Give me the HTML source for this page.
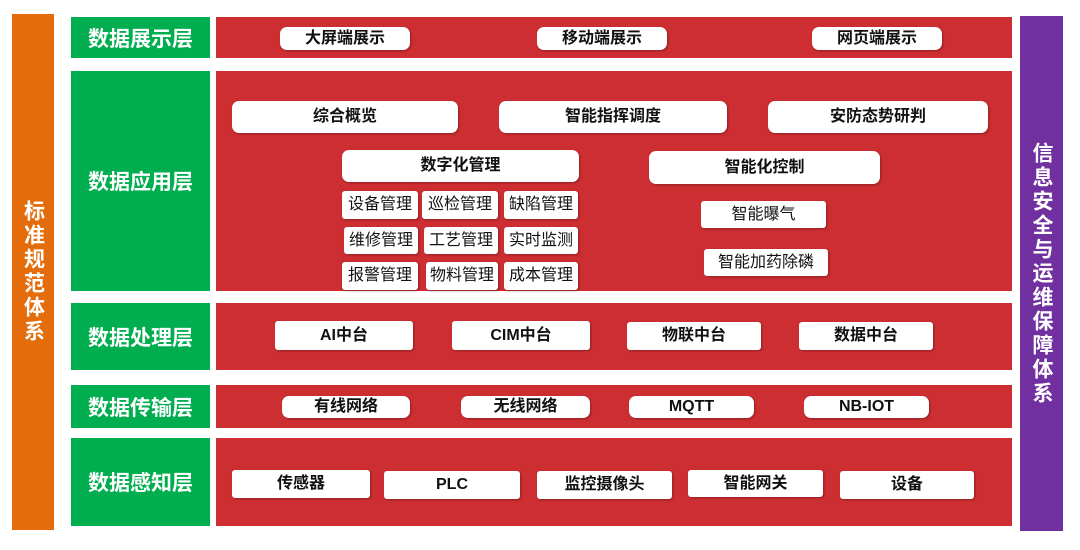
<!DOCTYPE html>
<html><head><meta charset="utf-8"><style>
body{margin:0;width:1080px;height:550px;background:#fff;position:relative;overflow:hidden;font-family:"Liberation Sans","Noto Sans CJK SC",sans-serif}
div{position:absolute;box-sizing:border-box}
.g{background:#00ad4f;color:#fff;font-weight:bold;font-size:21px;display:flex;align-items:center;justify-content:center;left:71px;width:139px}
.r{background:#cc2e32;left:216px;width:796px}
.b{background:#fff;color:#111;font-weight:bold;font-size:16px;line-height:1;display:flex;align-items:center;justify-content:center;border-radius:3px;box-shadow:1px 1px 2px rgba(0,0,0,.3)}
.rd{border-radius:7px}
.v{color:#fff;font-weight:bold;font-size:21px;line-height:1;display:flex;align-items:center;justify-content:center;writing-mode:vertical-rl;text-orientation:upright;letter-spacing:3px}
</style></head><body>
<div class="v" style="left:12px;top:14px;width:42px;height:516px;background:#e46c0a">标准规范体系</div>
<div class="v" style="left:1020px;top:16px;width:43px;height:515px;background:#7030a0">信息安全与运维保障体系</div>

<div class="g" style="top:17px;height:41px">数据展示层</div>
<div class="r" style="top:17px;height:41px"></div>
<div class="b rd" style="left:280px;top:27px;width:130px;height:23px">大屏端展示</div>
<div class="b rd" style="left:537px;top:27px;width:130px;height:23px">移动端展示</div>
<div class="b rd" style="left:812px;top:27px;width:130px;height:23px">网页端展示</div>

<div class="g" style="top:71px;height:220px">数据应用层</div>
<div class="r" style="top:71px;height:220px"></div>
<div class="b rd" style="left:232px;top:101px;width:226px;height:32px">综合概览</div>
<div class="b rd" style="left:499px;top:101px;width:228px;height:32px">智能指挥调度</div>
<div class="b rd" style="left:768px;top:101px;width:220px;height:32px">安防态势研判</div>
<div class="b rd" style="left:342px;top:150px;width:237px;height:32px">数字化管理</div>
<div class="b rd" style="left:649px;top:151px;width:231px;height:33px">智能化控制</div>
<div class="b" style="left:342px;top:191px;width:76px;height:28px;font-weight:normal">设备管理</div>
<div class="b" style="left:422px;top:191px;width:76px;height:28px;font-weight:normal">巡检管理</div>
<div class="b" style="left:504px;top:191px;width:74px;height:28px;font-weight:normal">缺陷管理</div>
<div class="b" style="left:344px;top:227px;width:74px;height:27px;font-weight:normal">维修管理</div>
<div class="b" style="left:424px;top:227px;width:74px;height:27px;font-weight:normal">工艺管理</div>
<div class="b" style="left:504px;top:227px;width:74px;height:27px;font-weight:normal">实时监测</div>
<div class="b" style="left:342px;top:262px;width:76px;height:28px;font-weight:normal">报警管理</div>
<div class="b" style="left:426px;top:262px;width:72px;height:28px;font-weight:normal">物料管理</div>
<div class="b" style="left:504px;top:262px;width:74px;height:28px;font-weight:normal">成本管理</div>
<div class="b" style="left:701px;top:201px;width:125px;height:27px;font-weight:normal">智能曝气</div>
<div class="b" style="left:704px;top:249px;width:124px;height:27px;font-weight:normal">智能加药除磷</div>

<div class="g" style="top:303px;height:67px">数据处理层</div>
<div class="r" style="top:303px;height:67px"></div>
<div class="b" style="left:275px;top:321px;width:138px;height:29px">AI中台</div>
<div class="b" style="left:452px;top:321px;width:138px;height:29px">CIM中台</div>
<div class="b" style="left:627px;top:322px;width:134px;height:28px">物联中台</div>
<div class="b" style="left:799px;top:322px;width:134px;height:28px">数据中台</div>

<div class="g" style="top:385px;height:43px">数据传输层</div>
<div class="r" style="top:385px;height:43px"></div>
<div class="b rd" style="left:282px;top:396px;width:128px;height:22px">有线网络</div>
<div class="b rd" style="left:461px;top:396px;width:129px;height:22px">无线网络</div>
<div class="b rd" style="left:629px;top:396px;width:125px;height:22px">MQTT</div>
<div class="b rd" style="left:804px;top:396px;width:125px;height:22px">NB-IOT</div>

<div class="g" style="top:438px;height:88px">数据感知层</div>
<div class="r" style="top:438px;height:88px"></div>
<div class="b" style="left:232px;top:470px;width:138px;height:28px">传感器</div>
<div class="b" style="left:384px;top:471px;width:136px;height:28px">PLC</div>
<div class="b" style="left:537px;top:471px;width:135px;height:28px">监控摄像头</div>
<div class="b" style="left:688px;top:470px;width:135px;height:27px">智能网关</div>
<div class="b" style="left:840px;top:471px;width:134px;height:28px">设备</div>
</body></html>
